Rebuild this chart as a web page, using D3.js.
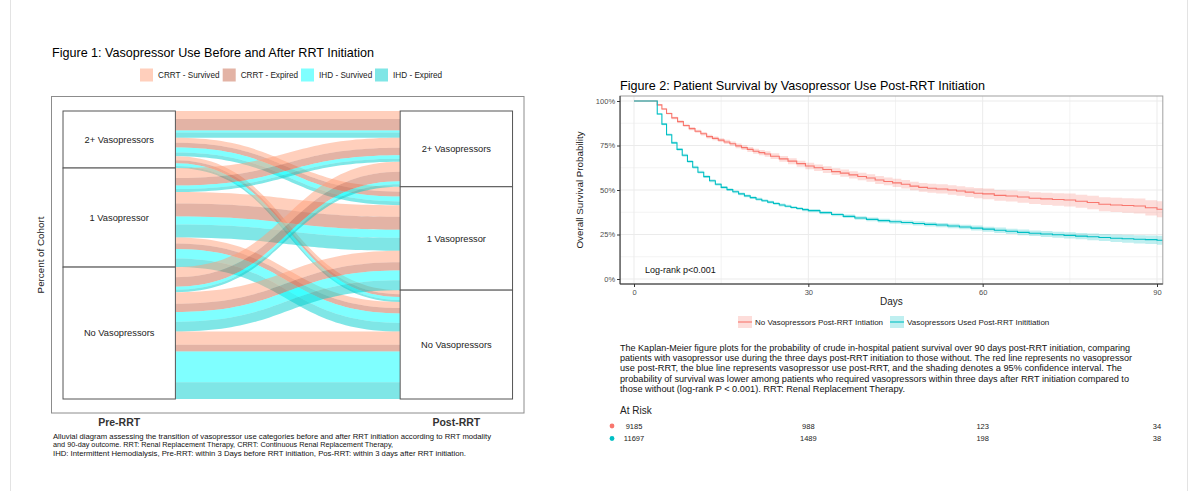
<!DOCTYPE html>
<html><head><meta charset="utf-8">
<script src="https://cdn.jsdelivr.net/npm/d3@7"></script>
<style>
body{margin:0;background:#fff;}
svg{display:block;font-family:"Liberation Sans",Arial,sans-serif;}
</style>
</head><body>
<svg id="c" width="1196" height="491"></svg>
<script>
// ================= Figure 1 data (alluvial) =================
const strata = ["2+ Vasopressors", "1 Vasopressor", "No Vasopressors"];
const axisLabels = ["Pre-RRT", "Post-RRT"];
const groups = ["CRRT - Survived", "CRRT - Expired", "IHD - Survived", "IHD - Expired"];
const groupColors = ["#FFA07A", "#C7674B", "#00FFFF", "#00CDCD"];
// percent of cohort per transition, by group [CRRT-Surv, CRRT-Exp, IHD-Surv, IHD-Exp]
const from2_to2 = [2.8, 4.0, 0.7, 1.8];
const from2_to1 = [1.7, 1.7, 1.7, 1.3];
const from2_toNo = [1.4, 1.0, 1.0, 0.7];
const from1_to2 = [3.5, 2.6, 1.2, 1.0];
const from1_to1 = [4.0, 4.5, 2.8, 4.5];
const from1_toNo = [2.1, 1.9, 3.3, 3.0];
const fromNo_to2 = [3.5, 3.3, 1.0, 0.9];
const fromNo_to1 = [4.0, 2.9, 3.4, 3.4];
const fromNo_toNo = [4.6, 2.3, 10.7, 5.8];
const fig1Caption = [
  "Alluvial diagram assessing the transition of vasopressor use categories before and after RRT initiation according to RRT modality",
  "and 90-day outcome. RRT: Renal Replacement Therapy, CRRT: Continuous Renal Replacement Therapy,",
  "IHD: Intermittent Hemodialysis, Pre-RRT: within 3 Days before RRT initiation, Pos-RRT: within 3 days after RRT initiation."
];

// ================= Figure 2 data (Kaplan-Meier) =================
const kmGroups = ["No Vasopressors Post-RRT Intiation", "Vasopressors Used Post-RRT Inititiation"];
const kmColors = ["#F8766D", "#00BFC4"];
const redTime = [0,4.0,4.8,5.6,6.5,7.5,8.5,9.5,10.5,11.5,12.5,13.5,14.5,15.5,16.5,17.5,18.5,19.5,20.5,21.5,22.5,23.5,25,26.5,28,29.5,31,32.5,34,35.5,37,38.5,40,41.5,43,44.5,46,47.5,49,50.5,52,54,55.5,57,58.5,60,62,64,66,68,70,72,74,76,78,80,82,84,86,88,90,91];
const redSurv = [1,0.978,0.955,0.930,0.905,0.884,0.862,0.845,0.830,0.816,0.800,0.790,0.780,0.770,0.760,0.748,0.738,0.728,0.718,0.710,0.702,0.690,0.675,0.662,0.648,0.635,0.625,0.615,0.603,0.595,0.585,0.576,0.567,0.556,0.548,0.540,0.532,0.522,0.515,0.510,0.506,0.500,0.494,0.488,0.482,0.478,0.470,0.466,0.461,0.454,0.450,0.447,0.444,0.437,0.430,0.420,0.416,0.413,0.410,0.400,0.392,0.390];
const redHalfCI = [0,0.004,0.005,0.006,0.007,0.008,0.008,0.009,0.009,0.010,0.010,0.011,0.011,0.012,0.012,0.013,0.013,0.014,0.014,0.015,0.015,0.016,0.016,0.017,0.017,0.018,0.018,0.019,0.019,0.020,0.020,0.021,0.021,0.022,0.022,0.023,0.024,0.024,0.025,0.025,0.026,0.027,0.027,0.028,0.029,0.030,0.030,0.031,0.032,0.033,0.034,0.035,0.036,0.037,0.038,0.039,0.040,0.041,0.042,0.043,0.045,0.046];
const blueTime = [0,4.0,4.8,5.6,6.5,7.4,8.3,9.2,10.1,11,12,13,14,15,16,17,18,19,20,21,22,23,24,25,26,27,28,29,30,32,34,36,38,40,42,44,46,48,50,52,54,56,58,60,62,64,66,68,70,72,74,76,78,80,82,84,86,88,90,91];
const blueSurv = [1,0.927,0.870,0.810,0.765,0.728,0.695,0.660,0.628,0.600,0.575,0.552,0.532,0.515,0.502,0.490,0.478,0.467,0.457,0.448,0.440,0.432,0.424,0.416,0.409,0.402,0.396,0.390,0.384,0.373,0.362,0.352,0.343,0.335,0.328,0.322,0.317,0.312,0.307,0.303,0.298,0.292,0.286,0.280,0.274,0.268,0.262,0.257,0.253,0.249,0.245,0.241,0.237,0.233,0.229,0.226,0.223,0.221,0.218,0.215];
const blueHalfCI = [0,0.005,0.006,0.007,0.007,0.007,0.008,0.008,0.008,0.008,0.008,0.008,0.008,0.008,0.008,0.008,0.008,0.008,0.008,0.008,0.008,0.008,0.008,0.008,0.008,0.008,0.009,0.009,0.009,0.009,0.009,0.010,0.010,0.010,0.011,0.011,0.011,0.012,0.012,0.012,0.013,0.013,0.014,0.014,0.015,0.015,0.016,0.016,0.017,0.017,0.018,0.018,0.019,0.020,0.021,0.022,0.023,0.024,0.025,0.025];
const yTicks = [0, 0.25, 0.5, 0.75, 1];
const xTicks = [0, 30, 60, 90];
const riskTimes = [0, 30, 60, 90];
const riskRed = [9185, 988, 123, 34];
const riskBlue = [11697, 1489, 198, 38];
const fig2Text = [
  "The Kaplan-Meier figure plots for the probability of crude in-hospital patient survival over 90 days post-RRT initiation, comparing",
  "patients with vasopressor use during the three days post-RRT initiation to those without. The red line represents no vasopressor",
  "use post-RRT, the blue line represents vasopressor use post-RRT, and the shading denotes a 95% confidence interval. The",
  "probability of survival was lower among patients who required vasopressors within three days after RRT initiation compared to",
  "those without (log-rank P < 0.001). RRT: Renal Replacement Therapy."
];
const fig2TextWidths = [510, 512, 502, 509, 285];

const svg = d3.select("#c");
svg.append("rect").attr("width", 1196).attr("height", 491).attr("fill", "#fff");
// faint page frame
svg.append("line").attr("x1", 10.5).attr("x2", 10.5).attr("y1", 0).attr("y2", 491).attr("stroke", "#e3e3e3");
svg.append("line").attr("x1", 1187.5).attr("x2", 1187.5).attr("y1", 0).attr("y2", 491).attr("stroke", "#e3e3e3");

// ================= Figure 1 =================
const f1 = svg.append("g");
f1.append("text").attr("x", 52).attr("y", 57).attr("font-size", 13.3).attr("fill", "#000")
  .attr("textLength", 322).attr("lengthAdjust", "spacingAndGlyphs")
  .text("Figure 1: Vasopressor Use Before and After RRT Initiation");

// legend
const legX = [140, 222.7, 301, 375];
groups.forEach((g, i) => {
  f1.append("rect").attr("x", legX[i]).attr("y", 68.5).attr("width", 13).attr("height", 13)
    .attr("fill", groupColors[i]).attr("fill-opacity", 0.5);
  f1.append("text").attr("x", legX[i] + 18).attr("y", 78.3).attr("font-size", 8.2).attr("fill", "#222").text(g);
});

// panel frame
f1.append("rect").attr("x", 51.5).attr("y", 96.5).attr("width", 472.5).attr("height", 316.5)
  .attr("fill", "none").attr("stroke", "#8c8c8c").attr("stroke-width", 1);

const transitions = [
  [from2_to2, from2_to1, from2_toNo],
  [from1_to2, from1_to1, from1_toNo],
  [fromNo_to2, fromNo_to1, fromNo_toNo]
];
const total = d3.sum(transitions.flat(2));
const yA = d3.scaleLinear().domain([0, total]).range([111, 399]);
const xA = d3.scaleLinear().domain([0, 1]).range([119.2, 456.35]);
const halfW = (xA(1) - xA(0)) / 6;

// compute lode positions
const flows = [];
transitions.forEach((row, i) => row.forEach((vals, j) => vals.forEach((v, g) => flows.push({i, j, g, v}))));
let cum = 0;
d3.sort(flows, d => d.i * 100 + d.j * 10 + d.g).forEach(f => { f.l0 = cum; cum += f.v; f.l1 = cum; });
cum = 0;
d3.sort(flows, d => d.j * 100 + d.i * 10 + d.g).forEach(f => { f.r0 = cum; cum += f.v; f.r1 = cum; });

const x0 = xA(0) + halfW, x1 = xA(1) - halfW, xm = (x0 + x1) / 2;
function ribbon(f) {
  const p = d3.path();
  p.moveTo(x0, yA(f.l0));
  p.bezierCurveTo(xm, yA(f.l0), xm, yA(f.r0), x1, yA(f.r0));
  p.lineTo(x1, yA(f.r1));
  p.bezierCurveTo(xm, yA(f.r1), xm, yA(f.l1), x0, yA(f.l1));
  p.closePath();
  return p.toString();
}
f1.append("g").selectAll("path").data(flows.filter(f => f.v > 0)).join("path")
  .attr("d", ribbon).attr("fill", d => groupColors[d.g]).attr("fill-opacity", 0.5);

// strata boxes
[0, 1].forEach(ax => {
  let c = 0;
  strata.forEach((s, k) => {
    const tot = ax === 0 ? d3.sum(transitions[k].flat()) : d3.sum(transitions.map(r => d3.sum(r[k])));
    const yTop = yA(c), yBot = yA(c + tot);
    c += tot;
    f1.append("rect").attr("x", xA(ax) - halfW).attr("y", yTop).attr("width", halfW * 2).attr("height", yBot - yTop)
      .attr("fill", "#fff").attr("stroke", "#555").attr("stroke-width", 1);
    f1.append("text").attr("x", xA(ax)).attr("y", (yTop + yBot) / 2 + 3.3).attr("text-anchor", "middle")
      .attr("font-size", 9.3).attr("fill", "#222").text(s);
  });
});

// axis labels
axisLabels.forEach((a, k) => {
  f1.append("text").attr("x", xA(k)).attr("y", 426).attr("text-anchor", "middle").attr("font-size", 10.5)
    .attr("font-weight", "bold").attr("fill", "#333").text(a);
});
f1.append("text").attr("transform", "translate(44,255) rotate(-90)").attr("text-anchor", "middle")
  .attr("font-size", 9.8).attr("fill", "#222").text("Percent of Cohort");

const capW = [438, 340, 413];
fig1Caption.forEach((t, k) => {
  f1.append("text").attr("x", 53).attr("y", 439 + k * 8.3).attr("font-size", 7.8).attr("fill", "#111")
    .attr("textLength", capW[k]).attr("lengthAdjust", "spacingAndGlyphs").text(t);
});

// ================= Figure 2 =================
const f2 = svg.append("g");
f2.append("text").attr("x", 620).attr("y", 90).attr("font-size", 13.3).attr("fill", "#000")
  .attr("textLength", 365).attr("lengthAdjust", "spacingAndGlyphs")
  .text("Figure 2: Patient Survival by Vasopressor Use Post-RRT Initiation");

const xK = d3.scaleLinear().domain([0, 90]).range([634, 1157]);
const yK = d3.scaleLinear().domain([0, 1]).range([279, 101]);
const pL = xK(-2.4), pR = xK(91.0), pT = 96, pB = 284;

svg.append("defs").append("clipPath").attr("id", "kmclip").append("rect")
  .attr("x", pL).attr("y", pT).attr("width", pR - pL).attr("height", pB - pT);

// grid
const grid = f2.append("g");
[0, 0.125, 0.25, 0.375, 0.5, 0.625, 0.75, 0.875, 1].forEach(v => {
  grid.append("line").attr("x1", pL).attr("x2", pR).attr("y1", yK(v)).attr("y2", yK(v))
    .attr("stroke", "#ebebeb").attr("stroke-width", v * 4 % 1 === 0 ? 1 : 0.6);
});
[0, 15, 30, 45, 60, 75, 90].forEach(v => {
  grid.append("line").attr("x1", xK(v)).attr("x2", xK(v)).attr("y1", pT).attr("y2", pB)
    .attr("stroke", "#ebebeb").attr("stroke-width", v % 30 === 0 ? 1 : 0.6);
});

const series = [
  {t: redTime, s: redSurv, h: redHalfCI, c: kmColors[0]},
  {t: blueTime, s: blueSurv, h: blueHalfCI, c: kmColors[1]}
];
const plotG = f2.append("g").attr("clip-path", "url(#kmclip)");
series.forEach(se => {
  const pts = se.t.map((t, k) => ({t, s: se.s[k], lo: se.s[k] - se.h[k], hi: se.s[k] + se.h[k]}));
  plotG.append("path").datum(pts)
    .attr("d", d3.area().curve(d3.curveStepAfter).x(d => xK(d.t)).y0(d => yK(d.lo)).y1(d => yK(d.hi)))
    .attr("fill", se.c).attr("fill-opacity", 0.25);
});
series.forEach(se => {
  const pts = se.t.map((t, k) => ({t, s: se.s[k]}));
  plotG.append("path").datum(pts)
    .attr("d", d3.line().curve(d3.curveStepAfter).x(d => xK(d.t)).y(d => yK(d.s)))
    .attr("fill", "none").attr("stroke", se.c).attr("stroke-width", 1.1);
});

// panel border
f2.append("rect").attr("x", pL).attr("y", pT).attr("width", pR - pL).attr("height", pB - pT)
  .attr("fill", "none").attr("stroke", "#a0a0a0").attr("stroke-width", 1);

// axes
const yAx = f2.append("g").attr("transform", `translate(${pL},0)`)
  .call(d3.axisLeft(yK).tickValues(yTicks).tickFormat(d3.format(".0%")).tickSize(3).tickPadding(2));
const xAx = f2.append("g").attr("transform", `translate(0,${pB})`)
  .call(d3.axisBottom(xK).tickValues(xTicks).tickSize(3).tickPadding(3));
[yAx, xAx].forEach(a => {
  a.select(".domain").attr("stroke", "#333");
  a.selectAll(".tick line").attr("stroke", "#333");
  a.selectAll("text").attr("font-size", 7.5).attr("fill", "#4d4d4d").attr("font-family", "Liberation Sans, Arial, sans-serif");
});
yAx.select(".domain").attr("d", `M0,${pT}V${pB}`);
xAx.select(".domain").attr("d", `M${pL},0H${pR}`);

f2.append("text").attr("x", (pL + pR) / 2).attr("y", 305).attr("text-anchor", "middle").attr("font-size", 10)
  .attr("fill", "#222").text("Days");
f2.append("text").attr("transform", `translate(583,${(pT + pB) / 2}) rotate(-90)`).attr("text-anchor", "middle")
  .attr("font-size", 9.8).attr("fill", "#222").text("Overall Survival Probability");
f2.append("text").attr("x", 645).attr("y", 273).attr("font-size", 9).attr("fill", "#111").text("Log-rank p<0.001");

// legend
const leg2X = [738, 890];
kmGroups.forEach((g, i) => {
  f2.append("rect").attr("x", leg2X[i]).attr("y", 316).attr("width", 14).attr("height", 12)
    .attr("fill", kmColors[i]).attr("fill-opacity", 0.25);
  f2.append("line").attr("x1", leg2X[i]).attr("x2", leg2X[i] + 14).attr("y1", 322).attr("y2", 322)
    .attr("stroke", kmColors[i]).attr("stroke-width", 1.1);
  f2.append("text").attr("x", leg2X[i] + 17).attr("y", 325).attr("font-size", 8).attr("fill", "#222").text(g);
});

// paragraph
fig2Text.forEach((t, k) => {
  f2.append("text").attr("x", 620).attr("y", 351 + k * 10.2).attr("font-size", 9.5).attr("fill", "#111")
    .attr("textLength", fig2TextWidths[k]).attr("lengthAdjust", "spacingAndGlyphs").text(t);
});

// at-risk table
f2.append("text").attr("x", 620).attr("y", 414).attr("font-size", 10).attr("fill", "#222").text("At Risk");
[riskRed, riskBlue].forEach((row, r) => {
  const yy = 426 + r * 12.5;
  f2.append("circle").attr("cx", 612).attr("cy", yy).attr("r", 2.4).attr("fill", kmColors[r]);
  row.forEach((v, k) => {
    f2.append("text").attr("x", xK(riskTimes[k])).attr("y", yy + 2.8).attr("text-anchor", "middle")
      .attr("font-size", 7.5).attr("fill", "#222").text(v);
  });
});
</script>
</body></html>
